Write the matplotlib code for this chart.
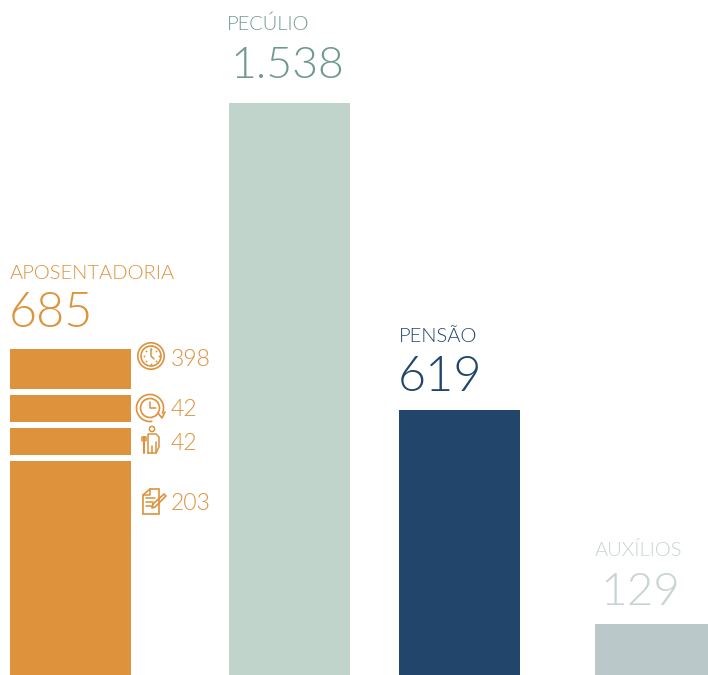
import matplotlib
matplotlib.use("Agg")
import numpy as np
import matplotlib.pyplot as plt
from matplotlib.patches import Circle, Arc, Polygon

# main categories
categories = ["APOSENTADORIA", "PECÚLIO", "PENSÃO", "AUXÍLIOS"]
value_labels = ["685", "1.538", "619", "129"]
# drawn heights (the bars are not proportional to the labels)
bar_heights = [326, 572, 265, 51]

# aposentadoria pieces, bottom to top
sub_labels = ["203", "42", "42", "398"]
sub_heights = [214, 27, 27, 40]

W, H = 708, 675
ORANGE = "#DD923B"
plt.rcParams["font.family"] = ["Lato", "DejaVu Sans"]
plt.rcParams["font.weight"] = 300

bar_left = [10, 229, 399, 595]
bar_width = [121, 121, 121, 113]
bar_colors = [ORANGE, "#C1D4CC", "#21456B", "#BAC8CA"]
text_colors = [ORANGE, "#6F9A8A", "#21456B", "#C8D3D4"]
name_pos = [(10, 279), (227, 30), (399, 342), (595, 556)]
value_pos = [(9, 327), (230, 78), (398, 391), (600, 605)]
value_size = [35, 32, 35, 33]

fig = plt.figure(figsize=(W / 100, H / 100), dpi=100)
ax = fig.add_axes([0, 0, 1, 1])
ax.set_xlim(0, W)
ax.set_ylim(0, H)
ax.axis("off")


def py(y):
    # picture rows count from the top
    return H - y


# --- bars ---
gap = 6
bottom = 0
for h in sub_heights:
    ax.bar(bar_left[0], h, bar_width[0], bottom=bottom, align="edge", color=ORANGE, lw=0)
    bottom += h + gap
for i in range(1, 4):
    ax.bar(bar_left[i], bar_heights[i], bar_width[i], align="edge", color=bar_colors[i], lw=0)

# --- labels ---
for i, name in enumerate(categories):
    ax.text(name_pos[i][0], py(name_pos[i][1]), name, color=text_colors[i],
            fontsize=14.5, va="baseline", ha="left")
    ax.text(value_pos[i][0], py(value_pos[i][1]), value_labels[i], color=text_colors[i],
            fontsize=value_size[i], va="baseline", ha="left")

sub_pos = [(171, 510), (171, 450), (171, 416), (171, 366)]
for lab, (x, y) in zip(sub_labels, sub_pos):
    ax.text(x, py(y), lab, color=ORANGE, fontsize=16.5, va="baseline", ha="left")


# --- icons ---
def line(xs, ys, lw=1.1):
    ax.plot(xs, [py(v) for v in ys], color=ORANGE, lw=lw, solid_capstyle="round")


def ring(x, y, r, lw=1.1):
    ax.add_patch(Circle((x, py(y)), r, fill=False, ec=ORANGE, lw=lw))


# clock
ring(151, 356, 13.2, 1.2)
ring(151, 356, 10, 1.2)
line([151, 151, 154], [349, 356, 359])
for a in np.arange(0, 360, 45):
    ax.plot(151 + 7.5 * np.cos(np.radians(a)), py(356) + 7.5 * np.sin(np.radians(a)),
            "o", ms=1.3, color=ORANGE, mew=0)

# clock with return arrow
ax.add_patch(Arc((150, py(408)), 27, 27, theta1=-25, theta2=280, ec=ORANGE, lw=1.2))
ring(150, 408, 9.5, 1.2)
line([150, 150, 156], [402, 408, 408])
line([158, 162, 165], [413, 418, 412], 1.2)

# person
ring(152, 429, 2.6)
line([148, 148, 156, 159, 159, 156, 148], [453, 434, 434, 437, 447, 453, 453])
line([144, 144], [437, 453], 1.5)
line([142, 142, 146, 146], [441, 437, 437, 441])
line([152, 152], [446, 453])
line([156, 156], [442, 453])

# document with pencil
ax.add_patch(Polygon([(143, py(495)), (150, py(489)), (159, py(489)), (159, py(514)), (143, py(514))],
                     closed=True, fill=False, ec=ORANGE, lw=1.2))
line([150, 150, 143], [489, 495, 495])
line([146, 155], [498, 498])
line([146, 153], [502, 502])
line([146, 152], [506, 506])
line([153, 164, 166, 155, 152, 153], [504, 494, 496, 507, 508, 504], 1.2)

fig.savefig("out.png", dpi=100, facecolor="white")
